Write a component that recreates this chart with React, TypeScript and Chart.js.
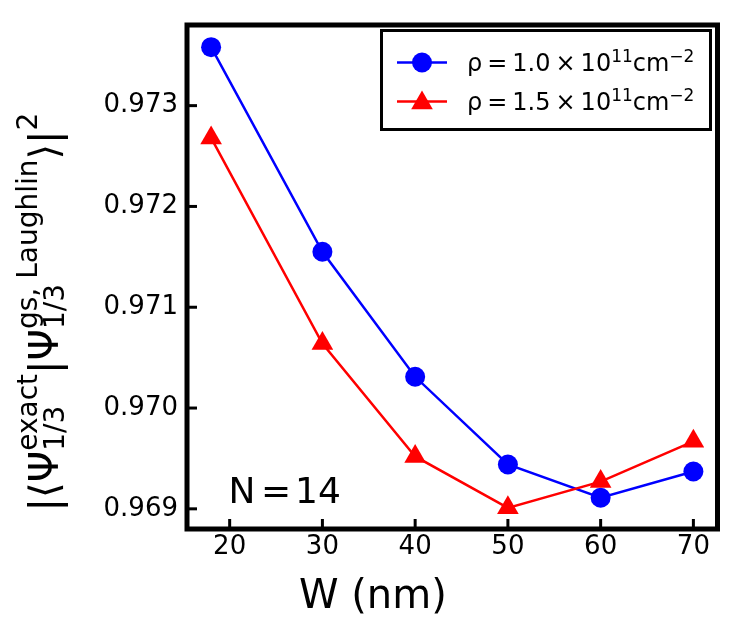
import { useEffect, useRef } from 'react';
import { Chart, registerables } from 'chart.js';

Chart.register(...registerables);

// well width W (nm)
const widths = [18, 30, 40, 50, 60, 70];
// overlap |<psi_exact|psi_laughlin>|^2 for the two densities
const overlapRho10 = [0.97358, 0.97155, 0.97031, 0.96944, 0.96911, 0.96937];
const overlapRho15 = [0.97268, 0.97064, 0.96952, 0.96901, 0.96927, 0.96967];

const xTicks = [20, 30, 40, 50, 60, 70];
const yTicks = [0.969, 0.970, 0.971, 0.972, 0.973];

const FONT = '"DejaVu Sans", Verdana, sans-serif';
const BLUE = '#0000ff';
const RED = '#ff0000';

type Piece = { main?: string; sup?: string; sub?: string; gap?: number };

// mathtext-ish run: main text, gaps, stacked super/subscripts
function measureRun(ctx: CanvasRenderingContext2D, pieces: Piece[], mainSize: number, scriptSize: number) {
  let w = 0;
  pieces.forEach((p) => {
    if (p.gap) {
      w += p.gap;
    } else if (p.main) {
      ctx.font = `${mainSize}px ${FONT}`;
      w += ctx.measureText(p.main).width;
    } else {
      ctx.font = `${scriptSize}px ${FONT}`;
      const a = p.sup ? ctx.measureText(p.sup).width : 0;
      const b = p.sub ? ctx.measureText(p.sub).width : 0;
      w += Math.max(a, b);
    }
  });
  return w;
}

function drawRun(
  ctx: CanvasRenderingContext2D,
  pieces: Piece[],
  x: number,
  y: number,
  mainSize: number,
  scriptSize: number,
  supShift: number,
  subShift: number
) {
  ctx.textBaseline = 'alphabetic';
  ctx.textAlign = 'left';
  pieces.forEach((p) => {
    if (p.gap) {
      x += p.gap;
    } else if (p.main) {
      ctx.font = `${mainSize}px ${FONT}`;
      ctx.fillText(p.main, x, y);
      x += ctx.measureText(p.main).width;
    } else {
      ctx.font = `${scriptSize}px ${FONT}`;
      let w = 0;
      if (p.sup) {
        ctx.fillText(p.sup, x, y + supShift);
        w = Math.max(w, ctx.measureText(p.sup).width);
      }
      if (p.sub) {
        ctx.fillText(p.sub, x, y + subShift);
        w = Math.max(w, ctx.measureText(p.sub).width);
      }
      x += w;
    }
  });
  return x;
}

function legendPieces(value: string): Piece[] {
  return [
    { main: '\u03c1' },
    { gap: 5 },
    { main: '=' },
    { gap: 5 },
    { main: value },
    { gap: 5 },
    { main: '\u00d7' },
    { gap: 5 },
    { main: '10' },
    { sup: '11' },
    { main: 'cm' },
    { sup: '\u22122' },
  ];
}

function triangle(ctx: CanvasRenderingContext2D, x: number, y: number, rad: number) {
  for (let k = 0; k < 3; k++) {
    const ang = (k * 2 * Math.PI) / 3;
    const px = x + Math.sin(ang) * rad;
    const py = y - Math.cos(ang) * rad;
    if (k === 0) ctx.moveTo(px, py);
    else ctx.lineTo(px, py);
  }
  ctx.closePath();
}

const decor = {
  id: 'decor',
  afterDatasetsDraw(chart: Chart) {
    const { ctx, chartArea: a, scales } = chart;
    ctx.save();
    ctx.fillStyle = '#000';
    ctx.strokeStyle = '#000';

    // frame
    ctx.lineWidth = 5;
    ctx.strokeRect(a.left, a.top, a.right - a.left, a.bottom - a.top);

    // inward ticks
    ctx.lineWidth = 3;
    xTicks.forEach((v) => {
      const px = scales.x.getPixelForValue(v);
      ctx.beginPath();
      ctx.moveTo(px, a.bottom);
      ctx.lineTo(px, a.bottom - 10);
      ctx.stroke();
    });
    yTicks.forEach((v) => {
      const py = scales.y.getPixelForValue(v);
      ctx.beginPath();
      ctx.moveTo(a.left, py);
      ctx.lineTo(a.left + 10, py);
      ctx.stroke();
    });

    // legend box
    ctx.fillStyle = '#fff';
    ctx.fillRect(381.5, 30.5, 329, 99);
    ctx.lineWidth = 3;
    ctx.strokeRect(381.5, 30.5, 329, 99);

    const rows = [
      { y: 62.5, color: BLUE, shape: 'circle', value: '1.0' },
      { y: 101.5, color: RED, shape: 'triangle', value: '1.5' },
    ];
    rows.forEach((r) => {
      ctx.strokeStyle = r.color;
      ctx.fillStyle = r.color;
      ctx.lineWidth = 2.5;
      ctx.beginPath();
      ctx.moveTo(397, r.y);
      ctx.lineTo(447, r.y);
      ctx.stroke();
      ctx.beginPath();
      if (r.shape === 'circle') {
        ctx.arc(422, r.y, 10, 0, Math.PI * 2);
      } else {
        triangle(ctx, 422, r.y + 1.5, 12.5);
      }
      ctx.fill();
      ctx.fillStyle = '#000';
      drawRun(ctx, legendPieces(r.value), 467, r.y + 8.5, 24, 17, -9, 0);
    });

    ctx.fillStyle = '#000';
    // N = 14 annotation, pieces centred on where their ink sits
    ctx.font = `36px ${FONT}`;
    ctx.textBaseline = 'alphabetic';
    ctx.textAlign = 'center';
    ctx.fillText('N', 242, 503);
    ctx.fillText('=', 276, 503);
    ctx.fillText('14', 318, 503);
    ctx.textAlign = 'left';

    // x axis title
    ctx.font = `40px ${FONT}`;
    ctx.fillText('W (nm)', 299, 608);

    // y axis title (rotated)
    const yPieces: Piece[] = [
      { main: '|\u27e8\u03a8' },
      { sup: 'exact', sub: '1/3' },
      { main: '|\u03a8' },
      { sup: 'gs, Laughlin', sub: '1/3' },
      { main: '\u27e9|' },
      { sup: '2' },
    ];
    const total = measureRun(ctx, yPieces, 40, 28);
    ctx.save();
    ctx.translate(58, 312);
    ctx.rotate(-Math.PI / 2);
    drawRun(ctx, yPieces, -total / 2, 0, 40, 28, -21, 6);
    ctx.restore();

    ctx.restore();
  },
};

export default function App() {
  const canvasRef = useRef<HTMLCanvasElement>(null);

  useEffect(() => {
    document.body.style.margin = '0';
    if (!canvasRef.current) return;

    const chart = new Chart(canvasRef.current, {
      type: 'line',
      data: {
        datasets: [
          {
            label: 'rho = 1.0e11 cm^-2',
            data: widths.map((w, i) => ({ x: w, y: overlapRho10[i] })),
            borderColor: BLUE,
            backgroundColor: BLUE,
            borderWidth: 2.5,
            pointStyle: 'circle',
            pointRadius: 10,
            pointBorderWidth: 0,
            order: 2,
          },
          {
            label: 'rho = 1.5e11 cm^-2',
            data: widths.map((w, i) => ({ x: w, y: overlapRho15[i] })),
            borderColor: RED,
            backgroundColor: RED,
            borderWidth: 2.5,
            pointStyle: 'triangle',
            pointRadius: 12.5,
            pointBorderWidth: 0,
            order: 1,
          },
        ],
      },
      options: {
        animation: false,
        responsive: false,
        layout: { padding: { top: 25, right: 29.5, left: 0, bottom: 0 } },
        plugins: {
          legend: { display: false },
          tooltip: { enabled: false },
        },
        scales: {
          x: {
            type: 'linear',
            min: 15.4,
            max: 72.6,
            grid: { display: false, drawTicks: false },
            border: { display: false },
            ticks: {
              color: '#000',
              padding: 3,
              font: { family: FONT, size: 26 },
              maxRotation: 0,
            },
            afterBuildTicks: (s: any) => {
              s.ticks = xTicks.map((v) => ({ value: v }));
            },
            afterFit: (s: any) => {
              s.height = 94;
            },
          },
          y: {
            type: 'linear',
            min: 0.9688,
            max: 0.9738,
            grid: { display: false, drawTicks: false },
            border: { display: false },
            ticks: {
              color: '#000',
              padding: 9,
              font: { family: FONT, size: 26 },
              callback: (v: any) => Number(v).toFixed(3),
            },
            afterBuildTicks: (s: any) => {
              s.ticks = yTicks.map((v) => ({ value: v }));
            },
            afterFit: (s: any) => {
              s.width = 187;
            },
          },
        },
      },
      plugins: [decor],
    });

    return () => {
      chart.destroy();
    };
  }, []);

  return (
    <div style={{ width: 747, height: 623, background: '#fff' }}>
      <canvas ref={canvasRef} width={747} height={623} style={{ display: 'block' }} />
    </div>
  );
}
